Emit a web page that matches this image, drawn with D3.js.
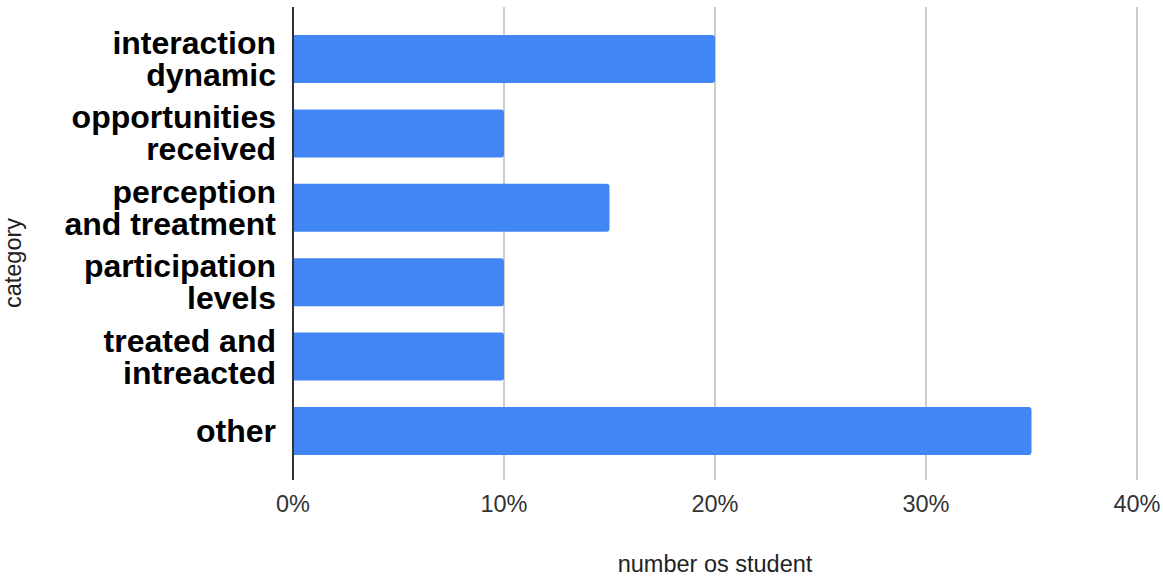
<!DOCTYPE html>
<html lang="en">
<head>
    <meta charset="utf-8">
    <script src="https://d3js.org/d3.v7.min.js"></script>
    <style>
        body { margin: 0; background: #fff; }
        svg { display: block; font-family: Arial, "Liberation Sans", sans-serif; }
    </style>
</head>
<body>
    <div id="chart"></div>
    <script>
        // data
        const categories = [
            ["interaction", "dynamic"],
            ["opportunities", "received"],
            ["perception", "and treatment"],
            ["participation", "levels"],
            ["treated and", "intreacted"],
            ["other"]
        ];
        const values = [0.20, 0.10, 0.15, 0.10, 0.10, 0.35];
        const xTicks = [0, 0.1, 0.2, 0.3, 0.4];

        const width = 1163, height = 577;
        const plotLeft = 293, plotRight = 1137, plotTop = 7, plotBottom = 480;

        const svg = d3.select("#chart").append("svg")
            .attr("width", width)
            .attr("height", height);

        const x = d3.scaleLinear().domain([0, 0.4]).range([plotLeft, plotRight]);
        // bands: first bar starts at 35, last ends at 455
        const y = d3.scaleBand()
            .domain(d3.range(categories.length))
            .range([35, 455])
            .paddingInner(0.355)
            .paddingOuter(0);

        // gridlines
        svg.append("g").selectAll("line")
            .data(xTicks.slice(1))
            .enter().append("line")
            .attr("x1", d => x(d)).attr("x2", d => x(d))
            .attr("y1", plotTop).attr("y2", plotBottom)
            .attr("stroke", "#cccccc")
            .attr("stroke-width", 2);

        // bars with rounded right corners
        const r = 3;
        svg.append("g").selectAll("path")
            .data(values)
            .enter().append("path")
            .attr("fill", "#4285f4")
            .attr("d", (d, i) => {
                const x0 = x(0), x1 = x(d), y0 = y(i), h = y.bandwidth();
                return `M${x0},${y0}H${x1 - r}Q${x1},${y0} ${x1},${y0 + r}` +
                    `V${y0 + h - r}Q${x1},${y0 + h} ${x1 - r},${y0 + h}H${x0}Z`;
            });

        // zero axis line
        svg.append("line")
            .attr("x1", x(0)).attr("x2", x(0))
            .attr("y1", plotTop).attr("y2", plotBottom)
            .attr("stroke", "#333333")
            .attr("stroke-width", 2);

        // x tick labels
        svg.append("g").selectAll("text")
            .data(xTicks)
            .enter().append("text")
            .attr("x", d => x(d))
            .attr("y", 512)
            .attr("text-anchor", "middle")
            .attr("fill", "#333333")
            .style("font-size", "23.5px")
            .text(d3.format(".0%"));

        // category labels
        const lineH = 32;
        const lab = svg.append("g").selectAll("text")
            .data(categories)
            .enter().append("text")
            .attr("text-anchor", "end")
            .attr("fill", "#000")
            .style("font-size", "32px")
            .style("font-weight", "bold");
        lab.each(function (lines, i) {
            const cy = y(i) + y.bandwidth() / 2;
            const t = d3.select(this);
            lines.forEach((s, j) => {
                t.append("tspan")
                    .attr("x", 276)
                    .attr("y", cy + (j - (lines.length - 1) / 2) * lineH + 11)
                    .text(s);
            });
        });

        // axis titles
        svg.append("text")
            .attr("x", (plotLeft + plotRight) / 2)
            .attr("y", 572)
            .attr("text-anchor", "middle")
            .attr("fill", "#222")
            .style("font-size", "23.5px")
            .text("number os student");

        svg.append("text")
            .attr("transform", "translate(21,263) rotate(-90)")
            .attr("text-anchor", "middle")
            .attr("fill", "#222")
            .style("font-size", "23.5px")
            .text("category");
    </script>
</body>
</html>
